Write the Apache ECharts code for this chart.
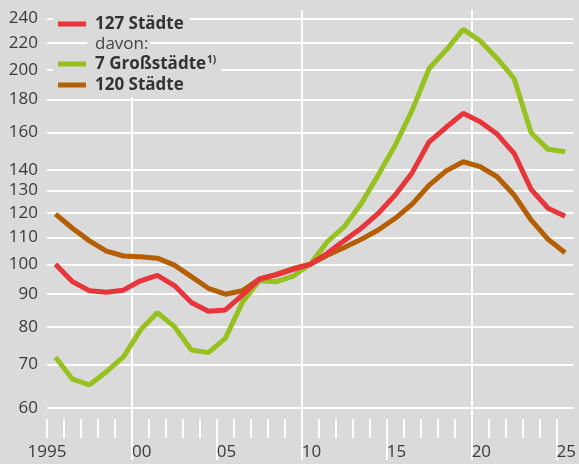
<!DOCTYPE html>
<html>
<head>
<meta charset="utf-8">
<script src="https://cdn.jsdelivr.net/npm/echarts@6/dist/echarts.min.js"></script>
<style>
html,body{margin:0;padding:0;background:#dadada;}
#chart{width:579px;height:464px;}
</style>
</head>
<body>
<div id="chart"></div>
<script>
// Data
const years = [1995,1996,1997,1998,1999,2000,2001,2002,2003,2004,2005,2006,2007,2008,2009,2010,2011,2012,2013,2014,2015,2016,2017,2018,2019,2020,2021,2022,2023,2024,2025];
const staedte127 = [100.0,94.0,91.0,90.5,91.2,94.3,96.1,92.7,87.3,84.6,85.0,89.6,94.8,96.3,98.2,100.0,104.0,108.8,113.7,119.9,128.0,138.6,154.7,162.9,171.2,166.2,159.0,148.5,130.6,122.1,118.7];
const grossstaedte7 = [71.8,66.4,65.1,68.2,71.9,79.1,84.2,80.1,73.7,73.0,76.8,87.3,94.3,94.0,95.9,100.0,108.4,114.3,124.2,137.4,152.8,173.2,200.9,214.5,230.9,221.7,208.2,193.9,159.8,150.6,149.3];
const staedte120 = [119.6,113.7,108.7,104.8,103.0,102.7,102.2,99.7,95.7,91.8,89.9,91.0,94.9,96.5,98.5,100.0,103.3,106.2,109.3,113.0,117.8,123.9,132.6,139.5,144.1,141.6,136.6,128.0,117.1,109.3,104.2];
const yTicks = [60,70,80,90,100,110,120,130,140,160,180,200,220,240];
const xMajorTicks = [2000,2005,2010,2015,2020,2025];
const xGridYears = [2000,2010,2020];
const seriesNames = ['127 Städte','7 Großstädte','120 Städte'];
const legendSubtitle = 'davon:';
const footnoteMark = '1)';

const FONT = '"Open Sans", "Noto Sans", sans-serif';
const LABEL_COLOR = '#3a3a3a';
const BG = '#dadada';
const colors = {red:'#e8343b', green:'#97c11f', brown:'#b55f04'};

const pairs = arr => arr.map((v,i)=>[years[i]+0.5, v]);

const chart = echarts.init(document.getElementById('chart'), null, {renderer:'canvas'});

const legendBase = {
  orient:'vertical', selectedMode:false, backgroundColor:BG,
  icon:'rect', itemWidth:28, itemHeight:5, left:53,
  textStyle:{fontFamily:FONT, fontSize:17, fontWeight:'bold', color:'#333', lineHeight:20, padding:[0,0,0,4]}
};

const option = {
  backgroundColor: BG,
  animation:false,
  grid:{left:47, right:2, top:10, bottom:45, containLabel:false},
  xAxis:[
    { type:'value', min:1995, max:2026, position:'bottom',
      axisLine:{show:false},
      axisTick:{show:true, inside:false, length:41, customValues:xMajorTicks, lineStyle:{color:'#fff', width:2}},
      axisLabel:{show:true, customValues:xMajorTicks, align:'left', margin:25,
        formatter:v=>String(v).slice(2), fontFamily:FONT, fontSize:17, color:LABEL_COLOR},
      splitLine:{show:false}
    },
    { type:'value', min:1995, max:2026, position:'bottom',
      axisLine:{show:false},
      axisTick:{show:true, inside:false, length:19, customValues:years, lineStyle:{color:'#fff', width:2}},
      axisLabel:{show:true, customValues:[years[0]], align:'center', margin:25,
        formatter:v=>String(v), fontFamily:FONT, fontSize:17, color:LABEL_COLOR},
      splitLine:{show:false}
    },
    { type:'value', min:1995, max:2026, position:'bottom',
      axisLine:{show:false},
      axisTick:{show:false, customValues:xGridYears},
      axisLabel:{show:false},
      splitLine:{show:true, lineStyle:{color:'#fff', width:2}}
    }
  ],
  yAxis:{
    type:'log', logBase:10, min:57.63, max:247.4,
    axisLine:{show:false},
    axisTick:{show:false, customValues:yTicks},
    axisLabel:{customValues:yTicks, margin:9, fontFamily:FONT, fontSize:17, color:LABEL_COLOR},
    splitLine:{show:true, lineStyle:{color:'#fff', width:2}}
  },
  legend:[
    Object.assign({}, legendBase, {data:[seriesNames[0]], top:10, padding:[4,6,0,5]}),
    Object.assign({}, legendBase, {data:[seriesNames[1]], top:54, padding:[0,5,0,5],
      formatter:n=>'{b|'+n+'}{s|'+footnoteMark+'}',
      textStyle:Object.assign({}, legendBase.textStyle, {rich:{
        b:{fontFamily:FONT, fontSize:17, fontWeight:'bold', color:'#333', lineHeight:20},
        s:{fontFamily:FONT, fontSize:10, fontWeight:'bold', color:'#333', verticalAlign:'top', lineHeight:20, padding:[1,0,0,1]}
      }})}),
    Object.assign({}, legendBase, {data:[seriesNames[2]], top:74, padding:[1,6,2,5]})
  ],
  graphic:[{
    type:'text', left:87, top:34, z:10,
    style:{text:legendSubtitle, fontFamily:FONT, fontSize:17, fill:'#444',
      backgroundColor:BG, padding:[0,2,0,8], lineHeight:20}
  }],
  series:[
    {name:seriesNames[2], type:'line', data:pairs(staedte120), showSymbol:false, symbol:'none',
      lineStyle:{color:colors.brown, width:5}, itemStyle:{color:colors.brown}},
    {name:seriesNames[1], type:'line', data:pairs(grossstaedte7), showSymbol:false, symbol:'none',
      lineStyle:{color:colors.green, width:5}, itemStyle:{color:colors.green}},
    {name:seriesNames[0], type:'line', data:pairs(staedte127), showSymbol:false, symbol:'none',
      lineStyle:{color:colors.red, width:5}, itemStyle:{color:colors.red}}
  ]
};
chart.setOption(option);
</script>
</body>
</html>
